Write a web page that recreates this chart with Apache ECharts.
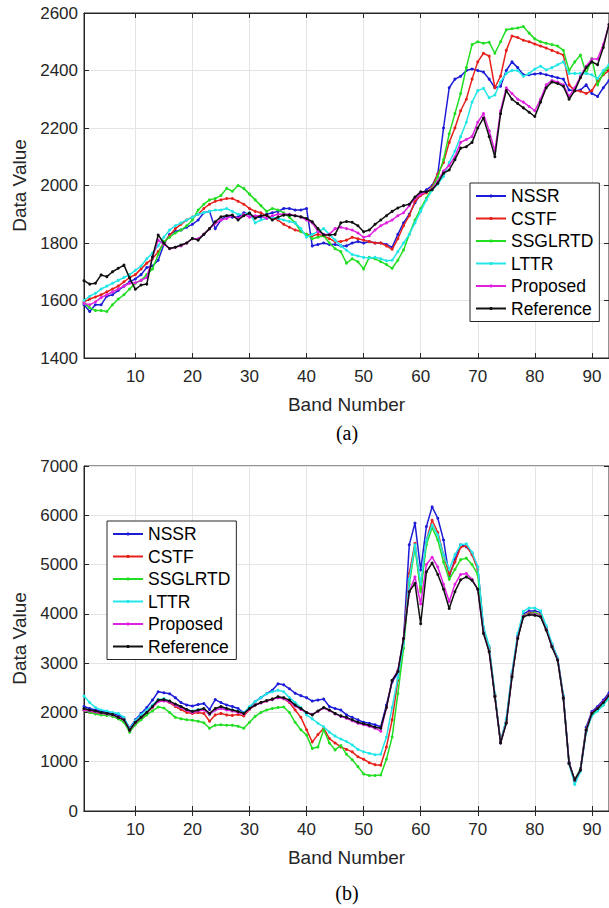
<!DOCTYPE html>
<html><head><meta charset="utf-8">
<script src="https://cdn.jsdelivr.net/npm/echarts@6/dist/echarts.min.js"></script>
<style>html,body{margin:0;padding:0;background:#fff}#c{width:609px;height:908px}</style>
</head><body><div id="c"></div>
<script>
const seriesNames = ['NSSR','CSTF','SSGLRTD','LTTR','Proposed','Reference'];
const seriesColors = ['#1c1cd8','#e6211c','#22de22','#22e6e6','#e022e0','#111111'];
const xTickValues = [10,20,30,40,50,60,70,80,90];
const panelLabels = ['(a)','(b)'];

// ---- panel (a) ----
const aNSSR = [1585,1562,1585,1585,1615,1620,1635,1650,1665,1675,
 1690,1715,1720,1740,1795,1830,1840,1845,1855,1865,
 1880,1905,1910,1850,1880,1895,1890,1890,1905,1900,
 1890,1890,1900,1905,1910,1920,1920,1915,1915,1920,
 1790,1795,1800,1795,1795,1790,1790,1800,1805,1800,
 1805,1800,1800,1795,1785,1830,1870,1900,1940,1970,
 1985,2000,2040,2200,2340,2370,2380,2400,2405,2400,
 2395,2370,2340,2345,2400,2430,2410,2385,2385,2388,
 2390,2385,2380,2375,2370,2332,2330,2332,2350,2320,
 2310,2340,2365];
const aCSTF = [1595,1605,1612,1620,1630,1640,1650,1665,1680,1690,
 1710,1730,1745,1770,1800,1825,1850,1865,1880,1890,
 1900,1920,1935,1945,1950,1955,1955,1945,1935,1920,
 1910,1905,1895,1890,1880,1865,1855,1845,1840,1830,
 1825,1830,1825,1815,1805,1805,1810,1820,1815,1810,
 1805,1800,1800,1790,1778,1815,1860,1895,1945,1965,
 1975,1995,2040,2080,2150,2200,2260,2300,2370,2430,
 2460,2450,2340,2380,2470,2520,2515,2505,2500,2492,
 2485,2478,2470,2462,2454,2350,2330,2328,2320,2330,
 2362,2385,2400];
const aSSGLRTD = [1590,1575,1565,1565,1562,1585,1605,1620,1640,1660,
 1670,1690,1710,1760,1805,1820,1835,1845,1860,1880,
 1915,1935,1950,1955,1965,1990,1980,2000,1990,1970,
 1950,1930,1910,1920,1915,1905,1890,1870,1840,1830,
 1815,1820,1825,1800,1780,1770,1730,1745,1735,1710,
 1750,1745,1735,1725,1712,1740,1776,1830,1880,1920,
 1956,1990,2030,2090,2180,2250,2320,2410,2490,2500,
 2495,2498,2460,2500,2542,2545,2548,2553,2530,2510,
 2500,2495,2490,2485,2470,2400,2430,2454,2390,2442,
 2350,2390,2413];
const aLTTR = [1600,1615,1625,1640,1650,1660,1670,1680,1690,1705,
 1720,1745,1765,1790,1820,1845,1860,1870,1880,1890,
 1900,1905,1910,1915,1915,1920,1910,1900,1900,1905,
 1870,1880,1885,1890,1885,1880,1875,1870,1850,1820,
 1830,1840,1850,1830,1810,1790,1775,1760,1755,1750,
 1748,1750,1745,1738,1740,1770,1800,1830,1870,1910,
 1950,1984,2005,2031,2080,2120,2170,2220,2290,2330,
 2338,2305,2315,2360,2390,2400,2400,2380,2390,2405,
 2415,2402,2410,2420,2430,2390,2390,2390,2390,2385,
 2372,2400,2420];
const aProposed = [1590,1585,1595,1610,1620,1630,1640,1650,1660,1662,
 1670,1680,1750,1810,1795,1780,1785,1790,1800,1815,
 1815,1830,1850,1868,1880,1885,1895,1885,1900,1890,
 1895,1895,1885,1895,1900,1900,1900,1895,1890,1880,
 1870,1840,1830,1830,1850,1855,1850,1845,1835,1820,
 1825,1845,1860,1870,1880,1895,1905,1930,1955,1970,
 1978,1988,2015,2050,2070,2100,2150,2160,2170,2220,
 2250,2190,2120,2260,2340,2320,2300,2290,2275,2260,
 2300,2350,2365,2360,2350,2310,2340,2380,2415,2440,
 2440,2490,2560];
const aReference = [1669,1657,1660,1689,1683,1700,1712,1723,1678,1639,
 1654,1657,1752,1828,1799,1781,1785,1793,1800,1816,
 1810,1830,1850,1874,1891,1895,1897,1880,1895,1904,
 1886,1895,1897,1880,1890,1897,1897,1895,1891,1885,
 1874,1850,1828,1828,1830,1870,1875,1872,1860,1839,
 1845,1865,1880,1895,1910,1922,1930,1935,1960,1978,
 1978,1985,2008,2043,2054,2090,2130,2135,2150,2200,
 2235,2170,2100,2250,2330,2300,2285,2270,2255,2240,
 2290,2340,2360,2355,2345,2300,2330,2375,2410,2430,
 2420,2480,2560];

// ---- panel (b) ----
const bNSSR = [2120,2080,2050,2030,2000,1980,1950,1880,1680,1850,
 1980,2100,2250,2420,2400,2380,2300,2200,2150,2130,
 2160,2180,2060,2260,2200,2150,2120,2080,1990,2100,
 2220,2300,2380,2450,2580,2560,2480,2390,2340,2300,
 2230,2250,2270,2120,2080,2050,1950,1900,1850,1800,
 1780,1750,1710,2150,2620,2800,3500,5400,5840,4890,
 5770,6170,5940,5500,4760,5100,5400,5360,5230,4950,
 3700,3300,2350,1400,1850,2780,3550,4000,4060,4060,
 4030,3720,3380,3100,2330,990,600,860,1700,2020,
 2120,2250,2400];
const bCSTF = [2050,2000,1990,1980,1970,1950,1900,1850,1620,1780,
 1880,1990,2100,2230,2240,2200,2120,2060,2000,1980,
 2000,1980,1820,1950,1980,1950,1940,1960,1930,2060,
 2150,2200,2230,2270,2300,2280,2200,2050,1900,1650,
 1400,1550,1680,1470,1380,1300,1250,1200,1100,1050,
 980,940,930,1300,1850,2650,3470,4820,5430,4500,
 5500,5900,5650,5200,4800,5050,5350,5380,5200,4900,
 3700,3300,2330,1400,1820,2750,3520,3960,4020,4020,
 3980,3700,3360,3080,2300,960,620,840,1660,1980,
 2070,2180,2330];
const bSSGLRTD = [2050,2000,1970,1950,1940,1920,1870,1800,1600,1750,
 1850,1950,2030,2110,2090,2000,1900,1870,1850,1840,
 1820,1790,1680,1740,1750,1740,1740,1720,1680,1800,
 1920,2000,2050,2080,2100,2110,2000,1800,1650,1540,
 1270,1300,1650,1380,1240,1330,1150,1040,900,750,
 720,720,730,1050,1500,2380,3300,4600,5350,4450,
 5400,5750,5500,5050,4700,4900,5100,5130,5000,4800,
 3650,3280,2330,1390,1800,2740,3500,3960,4000,4020,
 3960,3690,3350,3070,2290,960,640,850,1650,1960,
 2040,2150,2300];
const bLTTR = [2330,2200,2100,2050,2030,2000,1980,1900,1660,1830,
 1950,2050,2150,2260,2280,2230,2150,2100,2050,2030,
 2060,2060,1950,2050,2100,2070,2050,2030,1990,2120,
 2220,2300,2380,2420,2450,2420,2300,2200,2100,1950,
 1870,1780,1710,1600,1520,1460,1410,1340,1250,1200,
 1170,1140,1150,1500,2100,2700,3400,4700,5400,4600,
 5500,5800,5600,5200,4900,5200,5400,5420,5250,4950,
 3750,3350,2380,1380,1880,2820,3600,4050,4120,4120,
 4060,3760,3400,3110,2340,950,540,800,1600,1930,
 2030,2150,2300];
const bProposed = [2050,2030,2010,1990,1970,1950,1900,1850,1640,1790,
 1900,2000,2110,2220,2230,2210,2150,2100,2040,2000,
 2030,2050,1960,2050,2080,2050,2030,2000,1970,2070,
 2150,2190,2230,2260,2300,2280,2220,2130,2060,2000,
 1960,2020,2090,2040,1970,1920,1880,1830,1780,1750,
 1720,1680,1620,2100,2650,2850,3500,4450,4750,4200,
 5000,5150,4950,4600,4250,4600,4800,4820,4700,4500,
 3620,3240,2320,1380,1790,2730,3510,3950,3990,3990,
 3950,3680,3340,3070,2290,970,630,830,1640,1990,
 2090,2220,2350];
const bReference = [2080,2050,2030,2000,1980,1960,1900,1850,1640,1800,
 1900,2000,2120,2250,2260,2230,2170,2120,2060,2020,
 2050,2080,1980,2080,2120,2080,2050,2020,1980,2080,
 2150,2200,2240,2270,2320,2300,2250,2150,2080,2000,
 1950,2030,2100,2050,1980,1930,1900,1850,1800,1770,
 1740,1700,1680,2100,2650,2830,3500,4450,4620,3800,
 4850,5030,4800,4500,4110,4450,4690,4750,4680,4500,
 3600,3230,2320,1380,1780,2720,3500,3940,3980,3970,
 3940,3670,3330,3060,2290,970,630,830,1640,1980,
 2080,2200,2340];

const panelA = [aNSSR,aCSTF,aSSGLRTD,aLTTR,aProposed,aReference];
const panelB = [bNSSR,bCSTF,bSSGLRTD,bLTTR,bProposed,bReference];
const yRanges = [{min:1400,max:2600,interval:200},{min:0,max:7000,interval:1000}];
const bandMin = 1, bandMax = 93;

const FONT = '"Liberation Sans", Arial, Helvetica, sans-serif';
const AX = '#262626';
const GRIDC = '#e4e4e4';
const gridTops = [13, 466];

function toPairs(arr){ return arr.map((v,i)=>[i+bandMin, v]); }

const grids = gridTops.map(t=>({left:84, top:t, width:526, height:345, show:true, borderColor:AX, borderWidth:1, backgroundColor:'#fff'}));
const xAxes = [], yAxes = [];
[0,1].forEach(g=>{
  xAxes.push({type:'value', gridIndex:g, min:bandMin, max:bandMax, position:'bottom',
    name:'Band Number', nameLocation:'middle', nameGap:37,
    nameTextStyle:{fontSize:19, color:AX, fontFamily:FONT},
    axisLine:{show:true, lineStyle:{color:AX, width:1}},
    axisTick:{show:true, inside:true, length:5, customValues:xTickValues, lineStyle:{color:AX}},
    axisLabel:{show:true, customValues:xTickValues, fontSize:17, color:AX, fontFamily:FONT, margin:10, formatter:v=>String(v)},
    splitLine:{show:true, lineStyle:{color:GRIDC, width:1}}
  });
  xAxes.push({type:'value', gridIndex:g, min:bandMin, max:bandMax, position:'top',
    axisLine:{show:true, lineStyle:{color:AX}},
    axisTick:{show:true, inside:true, length:5, customValues:xTickValues, lineStyle:{color:AX}},
    axisLabel:{show:false}, splitLine:{show:false}
  });
  const r = yRanges[g];
  yAxes.push({type:'value', gridIndex:g, min:r.min, max:r.max, interval:r.interval, position:'left',
    name:'Data Value', nameLocation:'middle', nameGap:52, nameRotate:90,
    nameTextStyle:{fontSize:19, color:AX, fontFamily:FONT},
    axisLine:{show:true, lineStyle:{color:AX}},
    axisTick:{show:true, inside:true, length:5, lineStyle:{color:AX}},
    axisLabel:{fontSize:17, color:AX, fontFamily:FONT, margin:6, formatter:v=>String(v)},
    splitLine:{show:true, lineStyle:{color:GRIDC, width:1}}
  });
  yAxes.push({type:'value', gridIndex:g, min:r.min, max:r.max, interval:r.interval, position:'right',
    axisLine:{show:true, lineStyle:{color:AX}},
    axisTick:{show:true, inside:true, length:5, lineStyle:{color:AX}},
    axisLabel:{show:false}, splitLine:{show:false}
  });
});

const series = [];
[panelA, panelB].forEach((panel, g)=>{
  panel.forEach((arr, k)=>{
    series.push({name:seriesNames[k], type:'line', xAxisIndex:g*2, yAxisIndex:g*2,
      data:toPairs(arr), color:seriesColors[k],
      symbol:'circle', symbolSize:3, showSymbol:true,
      lineStyle:{width:1.5, color:seriesColors[k]},
      itemStyle:{color:seriesColors[k]},
      animation:false, z:2+k});
  });
});

const legendBase = {orient:'vertical', itemWidth:30, itemHeight:4, itemGap:4.5,
  textStyle:{fontSize:17.5, color:'#000', fontFamily:FONT, lineHeight:18},
  borderColor:AX, borderWidth:1, backgroundColor:'#fff', padding:[4,6,4,5], data:seriesNames};

const chart = echarts.init(document.getElementById('c'), null, {renderer:'svg'});
chart.setOption({
  backgroundColor:'#fff',
  animation:false,
  grid:grids, xAxis:xAxes, yAxis:yAxes, series:series,
  legend:[Object.assign({left:470, top:183}, legendBase), Object.assign({left:107, top:521}, legendBase)],
  graphic:[
    {type:'text', x:347, y:433, style:{text:panelLabels[0], font:'20px "Liberation Serif", "Times New Roman", serif', textAlign:'center', textVerticalAlign:'middle', fill:'#000'}},
    {type:'text', x:347, y:893, style:{text:panelLabels[1], font:'20px "Liberation Serif", "Times New Roman", serif', textAlign:'center', textVerticalAlign:'middle', fill:'#000'}}
  ]
});
</script></body></html>
